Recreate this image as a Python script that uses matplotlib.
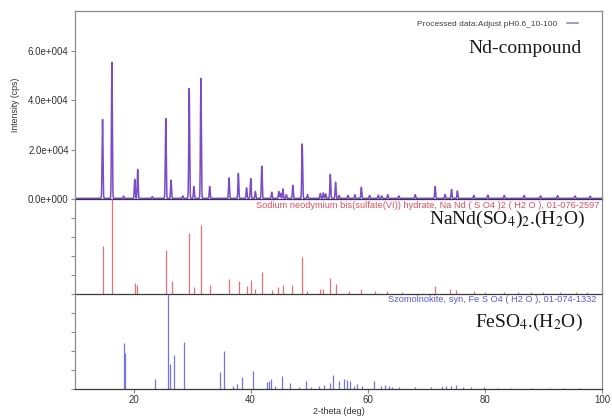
import numpy as np
import matplotlib
matplotlib.use("Agg")
import matplotlib.pyplot as plt

plt.rcParams['font.family'] = ['Liberation Sans', 'DejaVu Sans']
plt.rcParams['mathtext.fontset'] = 'stix'

# Measured pattern: peak positions (2-theta, deg) and peak intensities (cps)
nd_pos = [14.7, 16.3, 18.3, 20.2, 20.7, 23.2, 25.5, 26.4, 28.4, 29.5, 30.3, 31.5,
          33.0, 36.3, 37.9, 39.3, 40.0, 40.8, 41.9, 43.6, 44.8, 45.1, 45.5, 46.1,
          47.2, 48.8, 49.7, 51.9, 52.4, 52.8, 53.6, 54.5, 55.1, 56.6, 57.8, 58.9,
          60.3, 61.8, 62.4, 63.4, 65.3, 68.1, 71.5, 73.2, 74.3, 75.3, 78.1, 80.5,
          83.3, 86.7, 89.5, 92.4, 95.4, 98.0]
nd_int = [31900, 55000, 900, 7700, 11700, 700, 32300, 7400, 1000, 44400, 4800, 48500,
          4800, 8300, 10100, 4300, 8000, 2800, 13000, 2500, 2800, 2000, 3800, 1500,
          5300, 22000, 1500, 2000, 2200, 1800, 9700, 6500, 1200, 1200, 1500, 4500,
          1200, 1300, 1000, 1500, 1000, 1500, 4800, 1600, 3600, 3000, 1200, 1300,
          1200, 1200, 1000, 1100, 1000, 900]
background = 250

# Reference pattern 01-076-2597, NaNd(SO4)2.H2O (relative intensity, %)
na_pos = [14.7, 16.3, 20.2, 20.6, 25.5, 26.5, 29.5, 30.3, 31.5, 33.1, 36.3, 38.0,
          39.4, 40.0, 40.8, 42.0, 43.6, 44.7, 45.5, 47.1, 48.8, 49.7, 51.9, 52.4,
          53.6, 54.5, 56.8, 58.8, 61.3, 63.2, 65.8, 71.5, 74.0, 75.1, 78.2, 80.0,
          83.3, 85.6, 87.8, 90.0, 92.9, 95.5, 97.5]
na_int = [51, 100, 12, 10, 46, 14, 64, 7, 73, 9, 16, 14,
          8, 15, 5, 23, 4, 7, 9, 10, 39, 3, 5, 5,
          17, 11, 3, 5, 3, 3, 2, 8, 5, 4, 3, 2,
          2, 2, 2, 2, 2, 2, 2]

# Reference pattern 01-074-1332, szomolnokite FeSO4.H2O (relative intensity, %)
fe_pos = [18.4, 18.6, 23.6, 25.8, 26.3, 26.9, 28.6, 34.7, 35.4, 37.0, 37.6, 38.6,
          40.4, 42.8, 43.1, 43.5, 44.2, 45.3, 46.7, 48.2, 49.5, 50.3, 51.7, 52.5,
          53.5, 54.0, 55.1, 56.0, 56.4, 56.9, 57.6, 58.2, 59.0, 61.0, 62.2, 63.0,
          63.6, 64.1, 65.3, 68.1, 70.8, 72.6, 73.4, 74.2, 75.1, 76.3, 77.7, 79.9,
          82.2, 84.4, 87.8, 91.2, 93.5, 96.3]
fe_int = [48, 38, 11, 100, 26, 36, 50, 18, 40, 3, 5, 13,
          19, 7, 8, 11, 3, 14, 6, 2, 8, 2, 3, 4,
          6, 15, 8, 11, 10, 8, 3, 5, 3, 8, 3, 4,
          3, 2, 2, 2, 2, 3, 3, 3, 4, 2, 2, 2,
          1.5, 1.5, 1.5, 1.5, 1.5, 1.5]

x_ticks = [20, 40, 60, 80, 100]
y_ticks = [0, 20000, 40000, 60000]
y_ticklabels = ['0.0e+000', '2.0e+004', '4.0e+004', '6.0e+004']

W, H = 612, 420
fig = plt.figure(figsize=(W / 100, H / 100), dpi=100)

def px_axes(x0, y0, x1, y1):
    return fig.add_axes([x0 / W, 1 - y1 / H, (x1 - x0) / W, (y1 - y0) / H])

ax1 = px_axes(75, 11, 602, 199)
ax2 = px_axes(75, 199, 602, 294)
ax3 = px_axes(75, 294, 602, 389)

frame = '#8c8c8c'
tick_col = '#333333'

# Processed diffraction profile rebuilt from the measured peak list
two_theta = np.linspace(10, 100, 9001)
profile = np.full_like(two_theta, background, dtype=float)
for p, h in zip(nd_pos, nd_int):
    profile += h * np.exp(-0.5 * ((two_theta - p) / 0.075) ** 2)
line, = ax1.plot(two_theta, profile, color='#7a4cc8', lw=1.1)
ax1.set_xlim(10, 100)
ax1.set_ylim(0, 76000)
ax1.set_yticks(y_ticks)
ax1.set_yticklabels(y_ticklabels)
ax1.set_xticks([])
ax1.set_ylabel('Intensity (cps)', fontsize=6.3, color=tick_col, labelpad=6)

# Reference stick patterns
ax2.vlines(na_pos, 0, na_int, color='#e8707a', lw=0.9)
ax3.vlines(fe_pos, 0, fe_int, color='#7474e8', lw=0.9)
for ax in (ax2, ax3):
    ax.set_xlim(10, 100)
    ax.set_ylim(0, 100)
    ax.set_yticks([0, 20, 40, 60, 80])
    ax.set_yticklabels([])
ax2.set_xticks([])
ax3.set_xticks(x_ticks)
ax3.set_xlabel('2-theta (deg)', fontsize=6.5, color=tick_col, labelpad=1)

for ax in (ax1, ax2, ax3):
    for s in ax.spines.values():
        s.set_color(frame)
        s.set_linewidth(0.9)
    ax.spines['bottom'].set_color('#3a3a3a')
    ax.tick_params(axis='both', colors=frame, labelcolor=tick_col,
                   labelsize=7, length=3, width=0.8, pad=1.5)
    ax.patch.set_alpha(0)
ax1.spines['bottom'].set_color('#3a3050')
ax2.spines['top'].set_visible(False)
ax3.spines['top'].set_visible(False)

# Legend entry for the processed data
leg = ax1.legend([line], ['Processed data:Adjust pH0.6_10-100'], loc='center right',
                 bbox_to_anchor=(0.961, 0.931), borderaxespad=0.0,
                 frameon=False, fontsize=6, markerfirst=False, handlelength=1.3,
                 handletextpad=1.2, labelcolor='#404040')
leg.get_lines()[0].set_color('#8080c0')

serif = ['Liberation Serif', 'DejaVu Serif']
ax1.text(0.962, 0.80, 'Nd-compound', transform=ax1.transAxes, ha='right',
         va='center', fontsize=14, family=serif, color='#1a1a1a')
ax2.text(0.995, 0.98, 'Sodium neodymium bis(sulfate(VI)) hydrate, Na Nd ( S O4 )2 ( H2 O ), 01-076-2597',
         transform=ax2.transAxes, ha='right', va='top', fontsize=6.7, color='#e0505c')
ax2.text(0.968, 0.79, r'NaNd(SO$_4$)$_2$.(H$_2$O)', transform=ax2.transAxes,
         ha='right', va='center', fontsize=14, family=serif, color='#1a1a1a')
ax3.text(0.990, 0.985, 'Szomolnokite, syn, Fe S O4 ( H2 O ), 01-074-1332',
         transform=ax3.transAxes, ha='right', va='top', fontsize=6.7, color='#5a5ae0')
ax3.text(0.964, 0.70, r'FeSO$_4$.(H$_2$O)', transform=ax3.transAxes,
         ha='right', va='center', fontsize=14, family=serif, color='#1a1a1a')

fig.savefig('out.png', dpi=100)
